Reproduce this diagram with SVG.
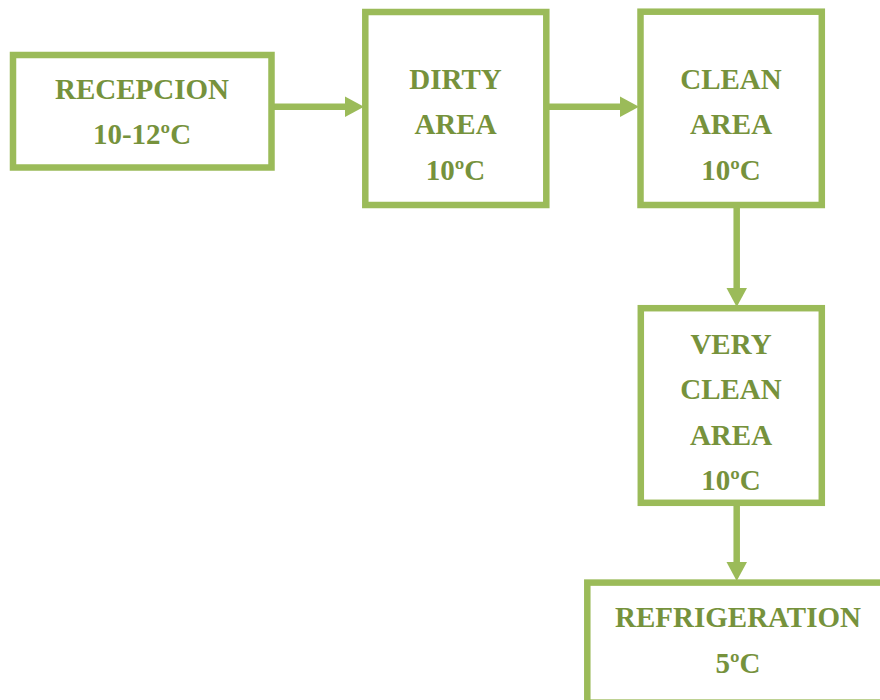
<svg xmlns="http://www.w3.org/2000/svg" width="880" height="700" viewBox="0 0 880 700">
<defs>
<style>
.box{fill:#fff;stroke:#9BBB59;stroke-width:6.5}
.lbl{font-family:"Liberation Serif","DejaVu Serif",serif;font-weight:bold;font-size:29px;fill:#76923C;text-anchor:middle}
.con{stroke:#9BBB59;stroke-width:6.5;fill:none}
.head{fill:#9BBB59}
</style>
</defs>
<rect width="880" height="700" fill="#fff"/>
<g id="connectors">
<line class="con" x1="274" y1="106.7" x2="348" y2="106.7"/>
<polygon class="head" points="364,106.7 345,96.5 345,117"/>
<line class="con" x1="549" y1="106.7" x2="623" y2="106.7"/>
<polygon class="head" points="639,106.7 620,96.5 620,117"/>
<line class="con" x1="736.7" y1="208" x2="736.7" y2="291"/>
<polygon class="head" points="736.7,307 726.5,288 747,288"/>
<line class="con" x1="736.7" y1="506" x2="736.7" y2="565"/>
<polygon class="head" points="736.7,581 726.5,562 747,562"/>
</g>
<g id="recepcion">
<rect class="box" x="13" y="55" width="258.5" height="112.5"/>
<text class="lbl" x="142" y="99.3">RECEPCION</text>
<text class="lbl" x="142" y="144">10-12ºC</text>
</g>
<g id="dirty">
<rect class="box" x="365.3" y="12" width="181" height="193"/>
<text class="lbl" x="455.5" y="89.3">DIRTY</text>
<text class="lbl" x="455.5" y="134.3">AREA</text>
<text class="lbl" x="455.5" y="180">10ºC</text>
</g>
<g id="clean">
<rect class="box" x="640.5" y="11.7" width="181.3" height="193.3"/>
<text class="lbl" x="731" y="89.3">CLEAN</text>
<text class="lbl" x="731" y="134.3">AREA</text>
<text class="lbl" x="731" y="180">10ºC</text>
</g>
<g id="veryclean">
<rect class="box" x="640.8" y="308.2" width="181" height="194.6"/>
<text class="lbl" x="731" y="353.5">VERY</text>
<text class="lbl" x="731" y="399">CLEAN</text>
<text class="lbl" x="731" y="444.5">AREA</text>
<text class="lbl" x="731" y="490">10ºC</text>
</g>
<g id="refrigeration">
<rect class="box" x="587.3" y="582.6" width="300" height="120"/>
<text class="lbl" x="738" y="626.7">REFRIGERATION</text>
<text class="lbl" x="738" y="673.3">5ºC</text>
</g>
</svg>
